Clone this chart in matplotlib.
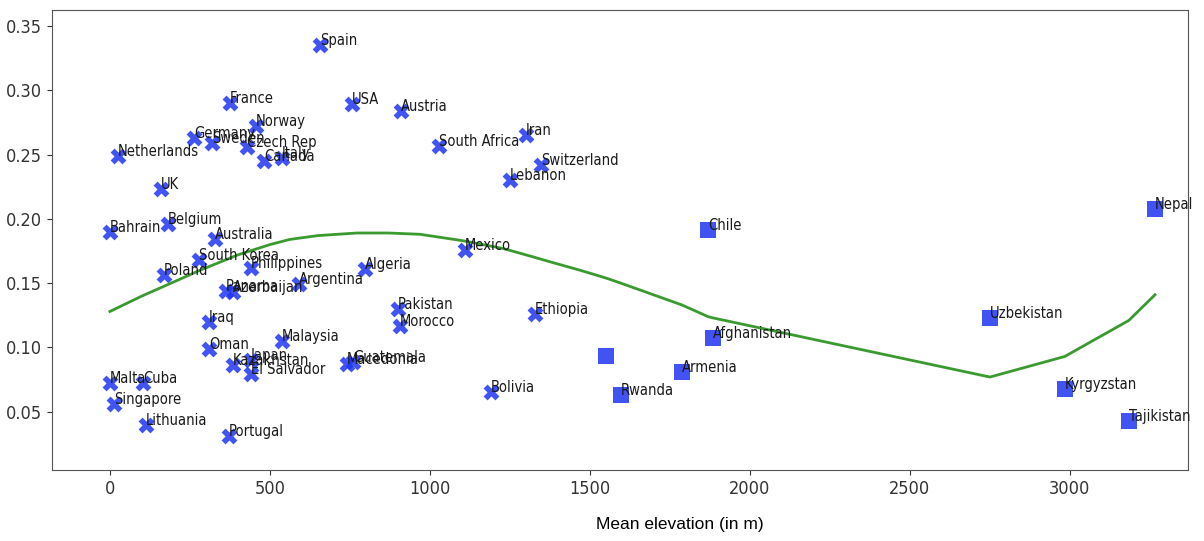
import matplotlib.pyplot as plt

# countries below the cut (X markers)
countries = ['Spain', 'France', 'USA', 'Austria', 'Norway', 'Germany', 'Sweden',
             'Czech Rep', 'Netherlands', 'Canada', 'Italy', 'UK', 'South Africa',
             'Iran', 'Switzerland', 'Lebanon', 'Bahrain', 'Belgium', 'Australia',
             'South Korea', 'Philippines', 'Poland', 'Panama', 'Azerbaijan',
             'Argentina', 'Algeria', 'Mexico', 'Pakistan', 'Morocco', 'Ethiopia',
             'Iraq', 'Oman', 'Malaysia', 'Kazakhstan', 'Japan', 'El Salvador',
             'Macedonia', 'Guatemala', 'Malta', 'Cuba', 'Singapore', 'Lithuania',
             'Portugal', 'Bolivia']
elevation = [656, 375, 756, 909, 456, 262, 319,
             428, 25, 481, 537, 159, 1028,
             1300, 1347, 1250, 0, 181, 328,
             278, 441, 169, 362, 384,
             591, 797, 1109, 900, 906, 1328,
             309, 309, 537, 384, 441, 441,
             741, 759, 0, 103, 12, 112,
             372, 1191]
value = [0.335, 0.290, 0.289, 0.284, 0.272, 0.263, 0.259,
         0.256, 0.249, 0.245, 0.247, 0.223, 0.257,
         0.265, 0.242, 0.230, 0.190, 0.196, 0.184,
         0.168, 0.162, 0.156, 0.144, 0.143,
         0.149, 0.161, 0.176, 0.130, 0.117, 0.126,
         0.120, 0.099, 0.105, 0.086, 0.090, 0.079,
         0.087, 0.089, 0.072, 0.072, 0.056, 0.040,
         0.031, 0.065]

# high countries (square markers)
countries_hi = ['Chile', '', 'Rwanda', 'Armenia', 'Afghanistan', 'Uzbekistan',
                'Nepal', 'Kyrgyzstan', 'Tajikistan']
elevation_hi = [1869, 1550, 1597, 1788, 1884, 2750, 3266, 2984, 3184]
value_hi = [0.191, 0.093, 0.063, 0.081, 0.107, 0.123, 0.208, 0.068, 0.043]

# fitted curve
fit_x = [0, 100, 200, 281, 400, 500, 562, 650, 772, 870, 969, 1103, 1228,
         1300, 1384, 1470, 1550, 1597, 1788, 1869, 1884, 2750, 2984, 3184, 3266]
fit_y = [0.128, 0.140, 0.151, 0.160, 0.172, 0.180, 0.184, 0.187, 0.189,
         0.189, 0.188, 0.183, 0.177, 0.172, 0.166, 0.160, 0.154, 0.150,
         0.133, 0.124, 0.123, 0.077, 0.093, 0.121, 0.141]

fig = plt.figure(figsize=(12.04, 5.41), dpi=100)
ax = fig.add_axes([0.0432, 0.1312, 0.9435, 0.8503])

ax.scatter(elevation, value, marker='X', s=130, color='#2035f0', alpha=0.85,
           linewidths=0, zorder=2)
ax.scatter(elevation_hi, value_hi, marker='s', s=140, color='#2035f0', alpha=0.85,
           linewidths=0, zorder=2)
ax.plot(fit_x, fit_y, color='#3a9a30', lw=2, zorder=3)

for name, x, y in zip(countries + countries_hi, elevation + elevation_hi,
                      value + value_hi):
    if name:
        ax.text(x, y, name, fontsize=10.5, fontstretch='condensed',
                color='#1a1a1a', zorder=4)

ax.set_xlim(-181, 3369)
ax.set_ylim(0.0047, 0.3624)
ax.set_xticks([0, 500, 1000, 1500, 2000, 2500, 3000])
ax.set_yticks([0.05, 0.10, 0.15, 0.20, 0.25, 0.30, 0.35])
ax.set_yticklabels(['0.05', '0.10', '0.15', '0.20', '0.25', '0.30', '0.35'])
ax.tick_params(labelsize=13, colors='#333333')
for lab in ax.get_xticklabels() + ax.get_yticklabels():
    lab.set_fontstretch('condensed')
for sp in ax.spines.values():
    sp.set_color('#555555')

fig.text(680 / 1204, 1 - 525 / 541, 'Mean elevation (in m)',
         family='Liberation Sans', fontsize=12.5, ha='center', va='center')

fig.savefig('out.png', dpi=100)
